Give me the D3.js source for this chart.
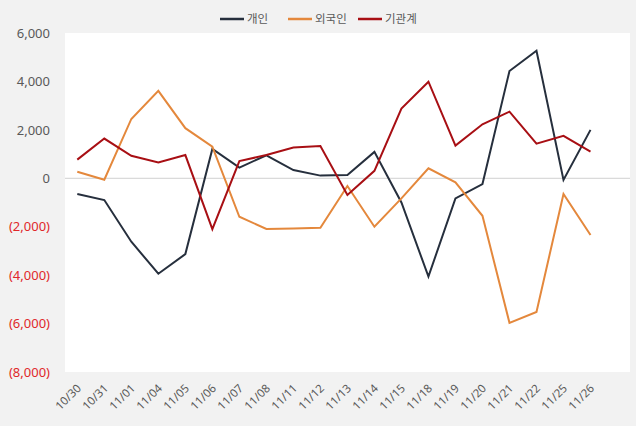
<!DOCTYPE html>
<html><head><meta charset="utf-8">
<script src="https://cdn.jsdelivr.net/npm/d3@7"></script>
<style>
html,body{margin:0;padding:0;background:#f2f2f2;}
svg{display:block;font-family:"Noto Sans CJK KR","Noto Sans",sans-serif;}
</style></head>
<body><svg id="c" width="636" height="426"></svg>
<script>
const categories = ["10/30","10/31","11/01","11/04","11/05","11/06","11/07","11/08","11/11","11/12","11/13","11/14","11/15","11/18","11/19","11/20","11/21","11/22","11/25","11/26"];
const individual = [-650,-900,-2620,-3940,-3130,1210,440,950,340,110,140,1090,-1000,-4060,-830,-240,4430,5270,-70,2000];
const foreign = [270,-60,2450,3610,2070,1310,-1590,-2090,-2070,-2040,-320,-2000,-830,410,-170,-1550,-5970,-5520,-650,-2340];
const institution = [770,1640,930,650,960,-2100,710,960,1270,1330,-690,310,2880,3990,1350,2230,2750,1430,1750,1100];
const seriesNames = ["개인","외국인","기관계"];
const seriesColors = ["#262f3d","#e4883c","#a80f14"];
const yTicks = [6000,4000,2000,0,-2000,-4000,-6000,-8000];

const svg = d3.select("#c");
const plot = {x0:65, x1:630, y0:33, y1:372};

svg.append("rect").attr("x",plot.x0).attr("y",plot.y0)
  .attr("width",plot.x1-plot.x0).attr("height",plot.y1-plot.y0).attr("fill","#ffffff");

const x = d3.scalePoint().domain(categories).range([77.3,590.5]);
const y = d3.scaleLinear().domain([-8000,6000]).range([plot.y1,plot.y0]);

// zero line
svg.append("line").attr("x1",plot.x0).attr("x2",plot.x1)
  .attr("y1",y(0)).attr("y2",y(0)).attr("stroke","#d0d0d0").attr("stroke-width",1);

// y axis labels
const fmt = v => v < 0 ? "(" + d3.format(",")(-v) + ")" : d3.format(",")(v);
const yAxis = d3.axisLeft(y).tickValues(yTicks).tickFormat(fmt).tickSize(0).tickPadding(0);
const gy = svg.append("g").attr("transform","translate(50,0)").call(yAxis);
gy.select(".domain").remove();
gy.selectAll("text").attr("font-size",13).attr("font-family","'Noto Sans','Noto Sans CJK KR',sans-serif")
  .attr("fill",d => d < 0 ? "#e0282a" : "#595959");

// x axis labels
const xAxis = d3.axisBottom(x).tickSize(0).tickPadding(0);
const gx = svg.append("g").attr("transform","translate(0,"+plot.y1+")").call(xAxis);
gx.select(".domain").remove();
gx.selectAll("text").attr("font-size",11.5).attr("fill","#595959")
  .attr("font-family","'Noto Sans','Noto Sans CJK KR',sans-serif")
  .attr("text-anchor","end").attr("dy",null).attr("y",0)
  .attr("transform","translate(4,17) rotate(-45)");

// lines
const data = [individual, foreign, institution];
const line = d3.line().x((d,i)=>x(categories[i])).y(d=>y(d));
data.forEach((s,k)=>{
  svg.append("path").datum(s).attr("d",line).attr("fill","none")
    .attr("stroke",seriesColors[k]).attr("stroke-width",2).attr("stroke-linejoin","miter");
});

// legend
const legendX = [220,288,358];
const lg = svg.append("g");
seriesNames.forEach((n,k)=>{
  lg.append("line").attr("x1",legendX[k]).attr("x2",legendX[k]+24).attr("y1",19).attr("y2",19)
    .attr("stroke",seriesColors[k]).attr("stroke-width",2.5);
  lg.append("text").attr("x",legendX[k]+27).attr("y",23).attr("font-size",11.5)
    .attr("fill","#595959").text(n);
});
</script></body></html>
